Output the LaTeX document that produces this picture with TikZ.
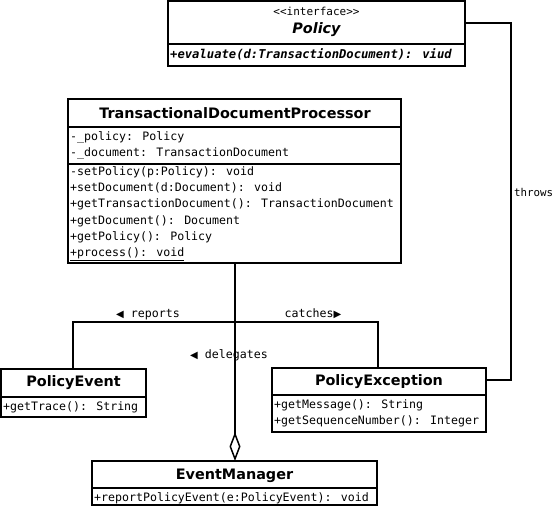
\documentclass[tikz,border=0pt]{standalone}
\usepackage{fontspec}
\usetikzlibrary{arrows.meta}
\newfontfamily\monof{DejaVu Sans Mono}
\newfontfamily\hdrf{DejaVu Sans}
\newcommand{\tri}[1]{{\hdrf\fontsize{10}{12}\selectfont #1}}
\begin{document}
\begin{tikzpicture}[x=1pt,y=-1pt,
  cls/.style={draw, line width=1.5pt, inner sep=0pt, outer sep=0pt, anchor=north west, fill=white},
  sep/.style={line width=1.5pt},
  conn/.style={line width=1.5pt},
  hdr/.style={font=\hdrf\bfseries\fontsize{14.4}{16}\selectfont, inner sep=0pt},
  mem/.style={font=\monof\fontsize{11.6}{14}\selectfont, anchor=west, inner sep=0pt, text height=8.5pt, text depth=2.5pt},
  lbl/.style={font=\monof\fontsize{11.6}{14}\selectfont, inner sep=0pt, text height=8.5pt, text depth=2.5pt}]
\useasboundingbox (0,0) rectangle (555,509);
% Policy
\node[cls, minimum width=297pt, minimum height=65pt] (policy) at (168,1) {};
\draw[sep] (policy.west |- 0,44) -- (policy.east |- 0,44);
\node[font=\monof\fontsize{11}{13}\selectfont, inner sep=0pt] (pst) at (316.5,11) {<<interface>>};
\node[font=\hdrf\bfseries\itshape\fontsize{14.4}{16}\selectfont, inner sep=0pt] (pname) at (316.5,30) {Policy};
\node[mem, font=\monof\bfseries\itshape\fontsize{12.2}{14}\selectfont] (pev1) at (170,55) {+evaluate(d:TransactionDocument): viud};
% TDP
\node[cls, minimum width=333pt, minimum height=164pt] (tdp) at (68,99) {};
\draw[sep] (tdp.west |- 0,127) -- (tdp.east |- 0,127);
\draw[sep] (tdp.west |- 0,164) -- (tdp.east |- 0,164);
\node[hdr] (tdpn) at (235,113) {TransactionalDocumentProcessor};
\node[mem] (ta1) at (70,137) {-\_policy: Policy};
\node[mem] (ta2) at (70,153) {-\_document: TransactionDocument};
\node[mem] (tm1) at (70,172) {-setPolicy(p:Policy): void};
\node[mem] (tm2) at (70,188) {+setDocument(d:Document): void};
\node[mem] (tm3) at (70,204.5) {+getTransactionDocument(): TransactionDocument};
\node[mem] (tm4) at (70,221) {+getDocument(): Document};
\node[mem] (tm5) at (70,237) {+getPolicy(): Policy};
\node[mem] (tm6) at (70,253) {\underline{+process(): void}};
% PolicyEvent
\node[cls, minimum width=145pt, minimum height=48pt] (pevt) at (1,369) {};
\draw[sep] (pevt.west |- 0,397) -- (pevt.east |- 0,397);
\node[hdr] (pevtn) at (73.5,383) {PolicyEvent};
\node[mem] (pe1) at (3,407) {+getTrace(): String};
% PolicyException
\node[cls, minimum width=214pt, minimum height=64pt] (pex) at (272,368) {};
\draw[sep] (pex.west |- 0,395) -- (pex.east |- 0,395);
\node[hdr] (pexn) at (379,382) {PolicyException};
\node[mem] (px1) at (274,405) {+getMessage(): String};
\node[mem] (px2) at (274,421) {+getSequenceNumber(): Integer};
% EventManager
\node[cls, minimum width=285pt, minimum height=44pt] (em) at (92,461) {};
\draw[sep] (em.west |- 0,488) -- (em.east |- 0,488);
\node[hdr] (emn) at (234.5,476) {EventManager};
\node[mem] (em1) at (94,498) {+reportPolicyEvent(e:PolicyEvent): void};
% connectors
\coordinate (j) at (235,322);
\coordinate (r) at (73,322);
\coordinate (c) at (378,322);
\coordinate (t1) at (511,23);
\coordinate (t2) at (511,380);
\draw[conn] (j) -- (r) -- (pevt.north -| r);
\draw[conn] (j) -- (c) -- (pex.north -| c);
\draw[conn, -{Diamond[open, length=29pt, width=11pt]}] (tdp.south -| j) -- (em.north -| j);
\draw[conn] (policy.east |- t1) -- (t1) -- (t2) -- (pex.east |- t2);
% labels
\node[lbl] (lrep) at (148,314) {\tri{◀} reports};
\node[lbl] (lcat) at (313,314) {catches\tri{▶}};
\node[lbl] (ldel) at (229,355) {\tri{◀} delegates};
\node[lbl, anchor=west, font=\monof\fontsize{10.8}{13}\selectfont] (lthr) at (514,193) {throws};
\end{tikzpicture}
\end{document}
